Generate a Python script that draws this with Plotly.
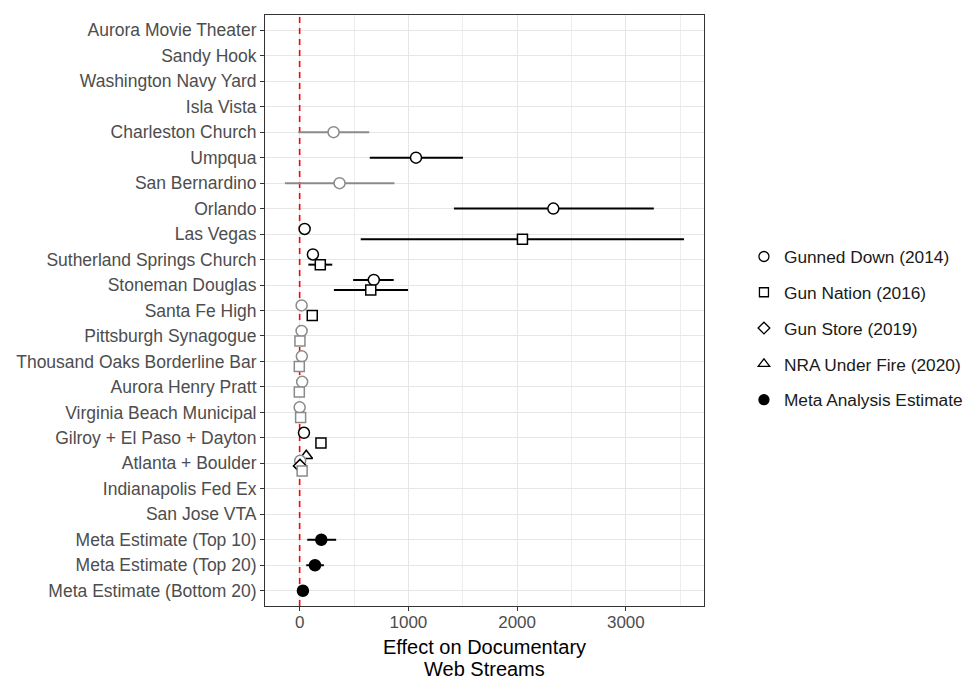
import plotly.graph_objects as go

categories = [
    "Aurora Movie Theater", "Sandy Hook", "Washington Navy Yard", "Isla Vista",
    "Charleston Church", "Umpqua", "San Bernardino", "Orlando", "Las Vegas",
    "Sutherland Springs Church", "Stoneman Douglas", "Santa Fe High",
    "Pittsburgh Synagogue", "Thousand Oaks Borderline Bar", "Aurora Henry Pratt",
    "Virginia Beach Municipal", "Gilroy + El Paso + Dayton", "Atlanta + Boulder",
    "Indianapolis Fed Ex", "San Jose VTA", "Meta Estimate (Top 10)",
    "Meta Estimate (Top 20)", "Meta Estimate (Bottom 20)",
]
N = None

# Gunned Down (2014)
gd_est = [N, N, N, N, 312, 1070, 367, 2333, 46, 122, 682, 18, 18, 20, 23, 0, 40, 5, N, N, N, N, N]
gd_lo = [N, N, N, N, -12, 645, -135, 1419, 26, 102, 492, 0, 0, 2, 5, -18, 20, -13, N, N, N, N, N]
gd_hi = [N, N, N, N, 640, 1502, 872, 3257, 66, 142, 865, 36, 36, 38, 41, 18, 60, 23, N, N, N, N, N]
gd_sig = [N, N, N, N, False, True, False, True, True, True, True, False, False, False, False, False, True, False, N, N, N, N, N]

# Gun Nation (2016)
gn_est = [N, N, N, N, N, N, N, N, 2049, 190, 654, 116, 3, -3, -3, 9, 196, 23, N, N, N, N, N]
gn_lo = [N, N, N, N, N, N, N, N, 562, 80, 315, 70, -15, -21, -21, -9, 156, 5, N, N, N, N, N]
gn_hi = [N, N, N, N, N, N, N, N, 3535, 300, 997, 168, 21, 15, 15, 27, 238, 41, N, N, N, N, N]
gn_sig = [N, N, N, N, N, N, N, N, True, True, True, True, False, False, False, False, True, False, N, N, N, N, N]

# Gun Store (2019)
gs_est = [N] * 17 + [3] + [N] * 5
gs_lo = [N] * 17 + [-15] + [N] * 5
gs_hi = [N] * 17 + [21] + [N] * 5
gs_sig = [N] * 17 + [True] + [N] * 5

# NRA Under Fire (2020)
nra_est = [N] * 17 + [61] + [N] * 5
nra_lo = [N] * 17 + [41] + [N] * 5
nra_hi = [N] * 17 + [81] + [N] * 5
nra_sig = [N] * 17 + [True] + [N] * 5

# Meta Analysis Estimate
meta_est = [N] * 20 + [199, 141, 30]
meta_lo = [N] * 20 + [70, 61, 12]
meta_hi = [N] * 20 + [336, 223, 48]
meta_sig = [N] * 20 + [True, True, True]

x_ticks = [0, 1000, 2000, 3000]
reference_x = 0
x_title_lines = ["Effect on Documentary", "Web Streams"]

series = {
    "Gunned Down (2014)": (gd_est, gd_lo, gd_hi, gd_sig),
    "Gun Nation (2016)": (gn_est, gn_lo, gn_hi, gn_sig),
    "Gun Store (2019)": (gs_est, gs_lo, gs_hi, gs_sig),
    "NRA Under Fire (2020)": (nra_est, nra_lo, nra_hi, nra_sig),
    "Meta Analysis Estimate": (meta_est, meta_lo, meta_hi, meta_sig),
}
styles = {
    "Gunned Down (2014)": dict(symbol="circle", size=11, fill=False),
    "Gun Nation (2016)": dict(symbol="square", size=10, fill=False),
    "Gun Store (2019)": dict(symbol="diamond", size=10, fill=False),
    "NRA Under Fire (2020)": dict(symbol="triangle-up", size=11, fill=False),
    "Meta Analysis Estimate": dict(symbol="circle", size=11, fill=True),
}
# vertical dodge order, top to bottom
dodge_order = ["NRA Under Fire (2020)", "Gunned Down (2014)", "Gun Store (2019)",
               "Gun Nation (2016)", "Meta Analysis Estimate"]
dodge_width = 0.8
BLACK = "#000000"
GREY = "#8a8a8a"

y_range = [len(categories) - 0.4, -0.6]

fig = go.Figure()

# red dashed reference line (drawn first, beneath points)
fig.add_trace(go.Scatter(
    x=[reference_x, reference_x], y=y_range, mode="lines", showlegend=False,
    line=dict(color="#ff0000", width=1.6, dash="6px,5px"), hoverinfo="skip",
))

for i, cat in enumerate(categories):
    present = [s for s in dodge_order if series[s][0][i] is not None]
    n = len(present)
    for k, s in enumerate(present):
        est, lo, hi, sig = series[s]
        off = (k - (n - 1) / 2) * (dodge_width / n)
        col = BLACK if sig[i] else GREY
        st = styles[s]
        fill = col if st["fill"] else "white"
        fig.add_trace(go.Scatter(
            x=[est[i]], y=[i + off], mode="markers", showlegend=False,
            marker=dict(symbol=st["symbol"], size=st["size"], color=fill,
                        line=dict(color=col, width=1.5)),
            error_x=dict(type="data", symmetric=False,
                         array=[hi[i] - est[i]], arrayminus=[est[i] - lo[i]],
                         color=col, thickness=2, width=0),
            hoverinfo="skip",
        ))

for s in series:
    st = styles[s]
    fig.add_trace(go.Scatter(
        x=[None], y=[None], mode="markers", name=s, legendgroup=s,
        marker=dict(symbol=st["symbol"], size=st["size"] - 1,
                    color=BLACK if st["fill"] else "white",
                    line=dict(color=BLACK, width=1.3)),
    ))

all_vals = [v for s in series.values() for arr in (s[1], s[2]) for v in arr if v is not None]
lo_all, hi_all = min(all_vals), max(all_vals)
pad = 0.05 * (hi_all - lo_all)

font_family = "Liberation Sans, Arial, sans-serif"
fig.update_layout(
    width=968, height=680,
    margin=dict(l=265, r=264, t=15, b=74, autoexpand=False),
    plot_bgcolor="white", paper_bgcolor="white",
    font=dict(family=font_family, color="#000000"),
    xaxis=dict(
        range=[lo_all - pad, hi_all + pad], tickvals=x_ticks,
        showgrid=True, gridcolor="#E6E6E6", gridwidth=1.4,
        minor=dict(dtick=500, tick0=500, showgrid=True, gridcolor="#EDEDED", gridwidth=0.8),
        zeroline=False, showline=True, mirror=True, linecolor="#333333", linewidth=1,
        ticks="outside", ticklen=4, tickcolor="#333333",
        tickfont=dict(size=17, color="#4d4d4d"),
        ticklabelstandoff=-3,
        automargin=False,
    ),
    yaxis=dict(
        range=y_range,
        tickvals=list(range(len(categories))), ticktext=categories,
        showgrid=True, gridcolor="#E6E6E6", gridwidth=1.4,
        zeroline=False, showline=True, mirror=True, linecolor="#333333", linewidth=1,
        ticks="outside", ticklen=4, tickcolor="#333333",
        tickfont=dict(size=17.5, color="#4d4d4d"),
        automargin=False,
    ),
    legend=dict(
        x=1.091, xanchor="left", y=0.470, yanchor="middle",
        traceorder="grouped", tracegroupgap=10.3,
        font=dict(size=17.3, color="#1a1a1a"),
        bgcolor="rgba(0,0,0,0)",
    ),
    annotations=[
        dict(text=x_title_lines[0], xref="paper", yref="paper", x=0.5, y=-(647 - 606) / 591,
             xanchor="center", yanchor="middle", showarrow=False,
             font=dict(size=20, color="#000000")),
        dict(text=x_title_lines[1], xref="paper", yref="paper", x=0.5, y=-(668.5 - 606) / 591,
             xanchor="center", yanchor="middle", showarrow=False,
             font=dict(size=20, color="#000000")),
    ],
)

fig.write_html("out.html")
